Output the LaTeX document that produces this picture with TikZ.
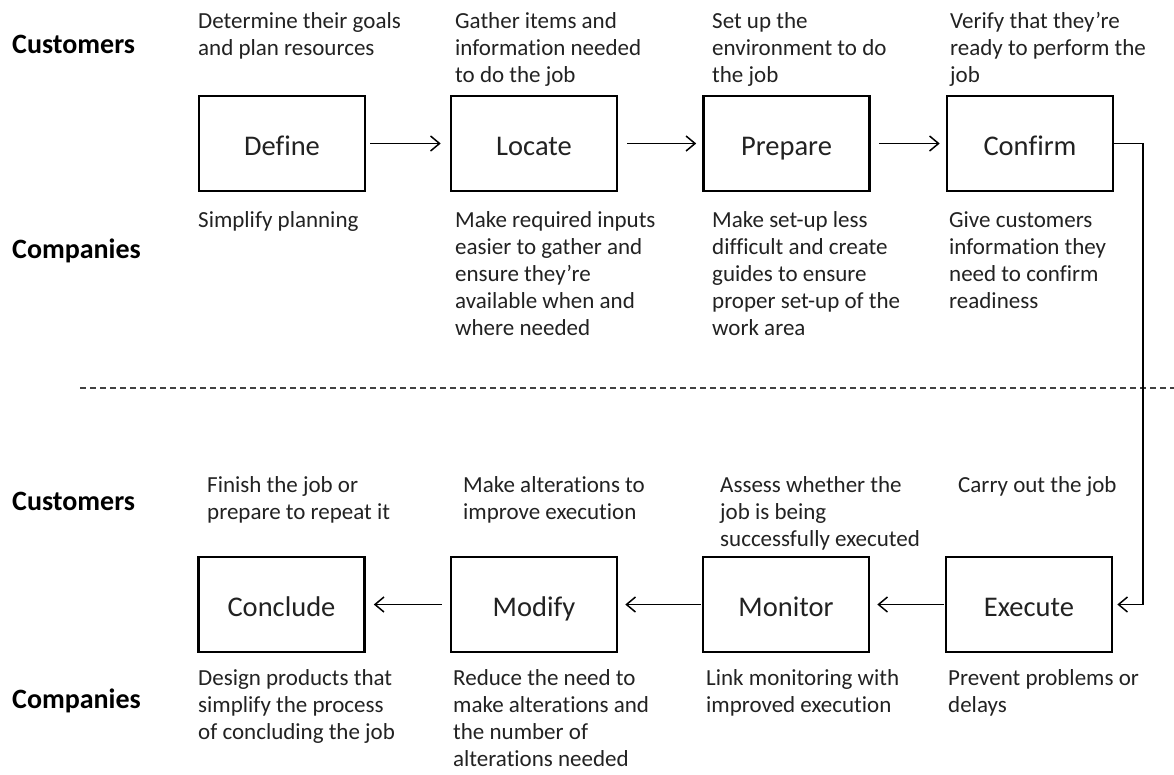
\documentclass[tikz,border=0pt]{standalone}
\usepackage{fontspec}
\setmainfont{Carlito}[Ligatures=NoCommon]
\usetikzlibrary{arrows.meta}
\definecolor{txt}{HTML}{222222}
\newcommand{\mylines}[1]{\begin{tabular}[t]{@{}l@{}}#1\end{tabular}}
\tikzset{
  stepbox/.style={draw=black, line width=2.6pt, minimum width=166pt, minimum height=95pt, inner sep=0pt,
    text height=26pt, text depth=3pt,
    font=\fontsize{28.5}{34}\selectfont, text=txt},
  desc/.style={anchor=base west, inner sep=0pt, text=txt,
    font=\fontsize{23}{27}\selectfont},
  role/.style={anchor=base west, inner sep=0pt, text=black,
    font=\fontsize{28}{34}\selectfont\bfseries},
  flow/.style={draw=black, line width=1.3pt, -{Straight Barb[length=9pt,width=15pt,line width=1.5pt]}},
  sep/.style={draw=black!75, line width=1.2pt, dash pattern=on 6pt off 4pt}
}
\begin{document}
\begin{tikzpicture}[x=1pt,y=-1pt]
\useasboundingbox (0,0) rectangle (1174,774);
\fill[white] (0,0) rectangle (1174,774);

% role labels
\node[role] (cust1) at (12,53) {Customers};
\node[role] (comp1) at (12,258) {Companies};
\node[role] (cust2) at (12,510) {Customers};
\node[role] (comp2) at (12,708) {Companies};

% top boxes
\node[stepbox] (define)  at (282,143.5) {Define};
\node[stepbox] (locate)  at (534,143.5) {Locate};
\node[stepbox] (prepare) at (786.5,143.5) {Prepare};
\node[stepbox] (confirm) at (1030,143.5) {Confirm};

% bottom boxes
\node[stepbox] (conclude) at (281.5,604.5) {Conclude};
\node[stepbox] (modify)   at (534,604.5) {Modify};
\node[stepbox] (monitor)  at (786,604.5) {Monitor};
\node[stepbox] (execute)  at (1029,604.5) {Execute};

% top customer texts
\node[desc] (tc1) at (198,28) {\mylines{Determine their goals\\and plan resources}};
\node[desc] (tc2) at (455,28) {\mylines{Gather items and\\information needed\\to do the job}};
\node[desc] (tc3) at (712,28) {\mylines{Set up the\\environment to do\\the job}};
\node[desc] (tc4) at (950,28) {\mylines{Verify that they’re\\ready to perform the\\job}};

% top company texts
\node[desc] (tp1) at (198,227) {\mylines{Simplify planning}};
\node[desc] (tp2) at (455,227) {\mylines{Make required inputs\\easier to gather and\\ensure they’re\\available when and\\where needed}};
\node[desc] (tp3) at (712,227) {\mylines{Make set-up less\\difficult and create\\guides to ensure\\proper set-up of the\\work area}};
\node[desc] (tp4) at (949,227) {\mylines{Give customers\\information they\\need to confirm\\readiness}};

% bottom customer texts
\node[desc] (bc1) at (207,492) {\mylines{Finish the job or\\prepare to repeat it}};
\node[desc] (bc2) at (463,492) {\mylines{Make alterations to\\improve execution}};
\node[desc] (bc3) at (720,492) {\mylines{Assess whether the\\job is being\\successfully executed}};
\node[desc] (bc4) at (958,492) {\mylines{Carry out the job}};

% bottom company texts
\node[desc] (bp1) at (198,685) {\mylines{Design products that\\simplify the process\\of concluding the job}};
\node[desc] (bp2) at (453,685) {\mylines{Reduce the need to\\make alterations and\\the number of\\alterations needed}};
\node[desc] (bp3) at (706,685) {\mylines{Link monitoring with\\improved execution}};
\node[desc] (bp4) at (948,685) {\mylines{Prevent problems or\\delays}};

% separator
\coordinate (sepL) at (80,388);
\coordinate (sepR) at (1174,388);
\draw[sep] (sepL) -- (sepR);

% connectors
\draw[flow, shorten <=4pt, shorten >=9pt] (define.east) -- (locate.west);
\draw[flow, shorten <=9pt, shorten >=6pt] (locate.east) -- (prepare.west);
\draw[flow, shorten <=8pt, shorten >=6pt] (prepare.east) -- (confirm.west);
\coordinate (turn) at (1143,143.5);
\draw[flow, shorten >=4pt] (confirm.east) -- (turn) |- (execute.east);
\draw[flow, shorten <=1pt, shorten >=7pt] (execute.west) -- (monitor.east);
\draw[flow, shorten <=1pt, shorten >=7pt] (monitor.west) -- (modify.east);
\draw[flow, shorten <=8pt, shorten >=8pt] (modify.west) -- (conclude.east);
\end{tikzpicture}
\end{document}
